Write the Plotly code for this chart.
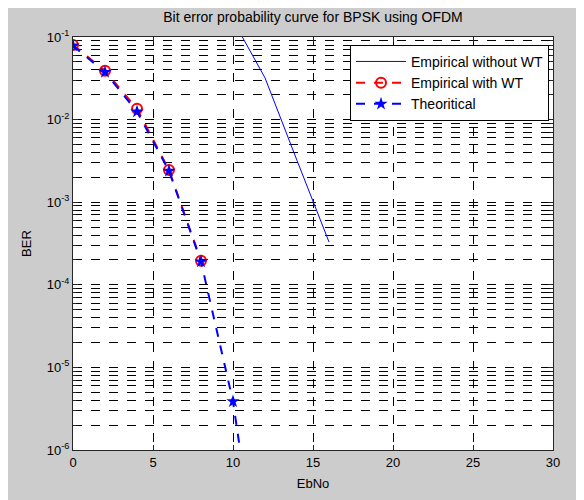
import plotly.graph_objects as go

# Data
ebno_theory = [0, 2, 4, 6, 8, 10, 12, 14]
ber_theory = [0.0786, 0.0375, 0.0125, 0.00239, 1.91e-4, 3.87e-6, 9.0e-9, 6.8e-12]

ebno_wt = [0, 2, 4, 6, 8]
ber_wt = [0.080, 0.039, 0.0135, 0.00245, 1.95e-4]

ebno_nowt = [10, 12, 14, 16]
ber_nowt = [0.16, 0.032, 0.0032, 3.3e-4]

ytick_vals = [1e-6, 1e-5, 1e-4, 1e-3, 1e-2, 1e-1]
ytick_text = ["10<sup>-6</sup>", "10<sup>-5</sup>", "10<sup>-4</sup>",
              "10<sup>-3</sup>", "10<sup>-2</sup>", "10<sup>-1</sup>"]
xtick_vals = [0, 5, 10, 15, 20, 25, 30]

FONT = "Liberation Sans, Arial, sans-serif"
GRAY = "#cccccc"

fig = go.Figure()
fig.add_trace(go.Scatter(
    x=ebno_nowt, y=ber_nowt, mode="lines", name="Empirical without WT",
    line=dict(color="#0000ff", width=1)))
fig.add_trace(go.Scatter(
    x=ebno_wt, y=ber_wt, mode="lines+markers", name="Empirical with WT",
    line=dict(color="#ff0000", width=2, dash="dash"),
    marker=dict(symbol="circle-open", size=10, color="#ff0000", line=dict(width=2))))
fig.add_trace(go.Scatter(
    x=ebno_theory, y=ber_theory, mode="lines+markers", name="Theoritical",
    line=dict(color="#0000ff", width=2, dash="dash"),
    marker=dict(symbol="star", size=10, color="#0000ff")))

axis_common = dict(
    showline=True, linecolor="#262626", linewidth=1, mirror="allticks",
    ticks="inside", ticklen=5, tickcolor="#262626", automargin=False,
    showgrid=True, gridcolor="#000000", gridwidth=1, griddash="dash",
    zeroline=False, tickfont=dict(family=FONT, size=13, color="#000000"),
)

fig.update_xaxes(range=[0, 30], tickvals=xtick_vals,
                 title=dict(text="EbNo", font=dict(family=FONT, size=13, color="#000"), standoff=10),
                 **axis_common)
fig.update_yaxes(type="log", range=[-6, -1], tickvals=ytick_vals, ticktext=ytick_text,
                 title=dict(text="BER", font=dict(family=FONT, size=13, color="#000"), standoff=12),
                 minor=dict(dtick="D1", showgrid=True, gridcolor="#000000", griddash="dash",
                            gridwidth=1, ticks="inside", ticklen=3, tickcolor="#262626"),
                 **axis_common)

fig.update_layout(
    width=576, height=492,
    margin=dict(l=65, r=31, t=29, b=50),
    paper_bgcolor=GRAY, plot_bgcolor="#ffffff",
    title=dict(text="Bit error probability curve for BPSK using OFDM",
               xref="paper", x=0.5, xanchor="center", y=0.981, yanchor="middle",
               font=dict(family=FONT, size=14, color="#000")),
    font=dict(family=FONT, size=13, color="#000"),
    legend=dict(x=0.9917, xanchor="right", y=0.981, yanchor="top",
                bgcolor="white", bordercolor="#000", borderwidth=1,
                font=dict(family=FONT, size=14, color="#000"),
                tracegroupgap=0, itemwidth=50),
    showlegend=True,
)

fig.write_html("out.html")
